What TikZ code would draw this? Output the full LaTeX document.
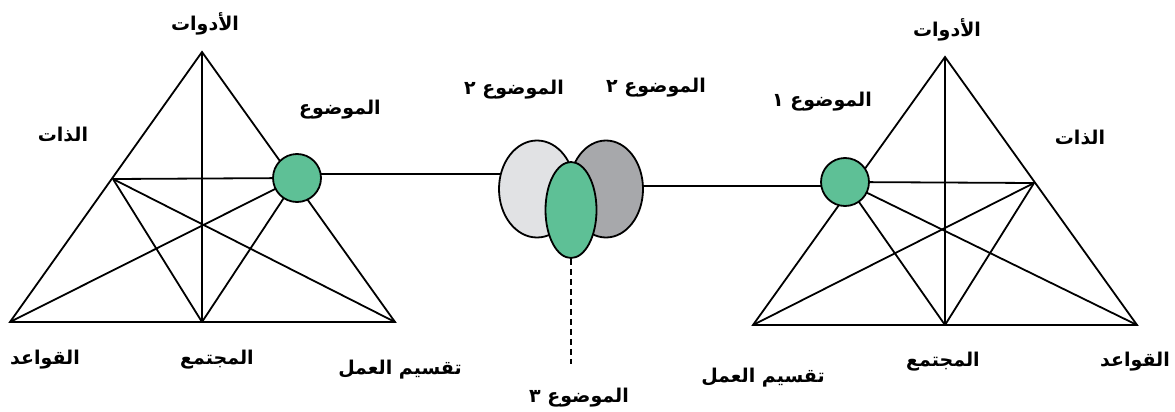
\documentclass[tikz,border=0pt]{standalone}
\usepackage{fontspec}
\usetikzlibrary{shapes.geometric}
\TeXXeTstate=1
\newfontfamily\arabicfont[Script=Arabic]{DejaVu Sans}
\definecolor{objgreen}{RGB}{94,192,150}
\definecolor{lightg}{RGB}{225,226,228}
\definecolor{darkg}{RGB}{167,168,171}
\tikzset{
  edge/.style={line width=1.8pt, black},
  lbl/.style={inner sep=0pt, font=\arabicfont\bfseries\fontsize{19}{22}\selectfont},
  objcirc/.style={circle, draw=black, line width=1.8pt, fill=objgreen, minimum width=48pt, inner sep=0pt},
  blob/.style={ellipse, draw=black, line width=1.8pt, inner sep=0pt}
}
\begin{document}
\begin{tikzpicture}[x=1pt,y=-1pt]
\useasboundingbox (0,0) rectangle (1175,412);
% ---------- left activity system ----------
\coordinate (tL) at (202,52);
\coordinate (blL) at (10,322);
\coordinate (brL) at (395,322);
\coordinate (bmL) at (202,322);
\coordinate (sL) at (113,179);
\coordinate (oL) at (297,178);
\draw[edge] (tL) -- (blL) -- (brL) -- cycle;
\draw[edge] (tL) -- (bmL);
\draw[edge] (sL) -- (oL);
\draw[edge] (sL) -- (brL);
\draw[edge] (sL) -- (bmL);
\draw[edge] (oL) -- (blL);
\draw[edge] (oL) -- (bmL);
% ---------- right activity system ----------
\coordinate (tR) at (945,57);
\coordinate (blR) at (753,325);
\coordinate (brR) at (1137,325);
\coordinate (bmR) at (945,325);
\coordinate (sR) at (1034,183);
\coordinate (oR) at (845,182);
\draw[edge] (tR) -- (blR) -- (brR) -- cycle;
\draw[edge] (tR) -- (bmR);
\draw[edge] (oR) -- (sR);
\draw[edge] (oR) -- (brR);
\draw[edge] (oR) -- (bmR);
\draw[edge] (sR) -- (blR);
\draw[edge] (sR) -- (bmR);
% ---------- connectors to shared object ----------
\coordinate (cLa) at (297,174);
\coordinate (cLb) at (537,174);
\coordinate (cRa) at (606,186);
\coordinate (cRb) at (845,186);
\draw[edge] (cLa) -- (cLb);
\draw[edge] (cRa) -- (cRb);
% ---------- shared object ellipses ----------
\node[blob, fill=lightg, minimum width=76pt, minimum height=97pt] (e1) at (537,189) {};
\node[blob, fill=darkg, minimum width=74pt, minimum height=97pt] (e2) at (606,189) {};
\node[blob, fill=objgreen, minimum width=51pt, minimum height=96pt] (e3) at (571,210) {};
\coordinate (d3) at (571,364);
\draw[edge, dash pattern=on 6pt off 4pt] (e3.south) -- (d3);
% ---------- object circles ----------
\node[objcirc, minimum height=45pt] (objL) at (oL) {};
\node[objcirc, minimum height=45pt] (objR) at (oR) {};
% ---------- labels left ----------
\node[lbl] (l1) at (205,24) {\beginR الأدوات\endR};
\node[lbl] (l2) at (340,110) {\beginR الموضوع\endR};
\node[lbl] (l3) at (63,135) {\beginR الذات\endR};
\node[lbl] (l4) at (45,360) {\beginR القواعد\endR};
\node[lbl] (l5) at (217,360) {\beginR المجتمع\endR};
\node[lbl] (l6) at (400,370) {\beginR تقسيم العمل\endR};
% ---------- labels middle ----------
\node[lbl] (m1) at (514,90) {\beginR الموضوع ٢\endR};
\node[lbl] (m2) at (656,88) {\beginR الموضوع ٢\endR};
\node[lbl] (m3) at (579,398) {\beginR الموضوع ٣\endR};
% ---------- labels right ----------
\node[lbl] (r1) at (947,30) {\beginR الأدوات\endR};
\node[lbl] (r2) at (822,102) {\beginR الموضوع ١\endR};
\node[lbl] (r3) at (1080,138) {\beginR الذات\endR};
\node[lbl] (r4) at (1135,362) {\beginR القواعد\endR};
\node[lbl] (r5) at (943,362) {\beginR المجتمع\endR};
\node[lbl] (r6) at (763,378) {\beginR تقسيم العمل\endR};
\end{tikzpicture}
\end{document}
